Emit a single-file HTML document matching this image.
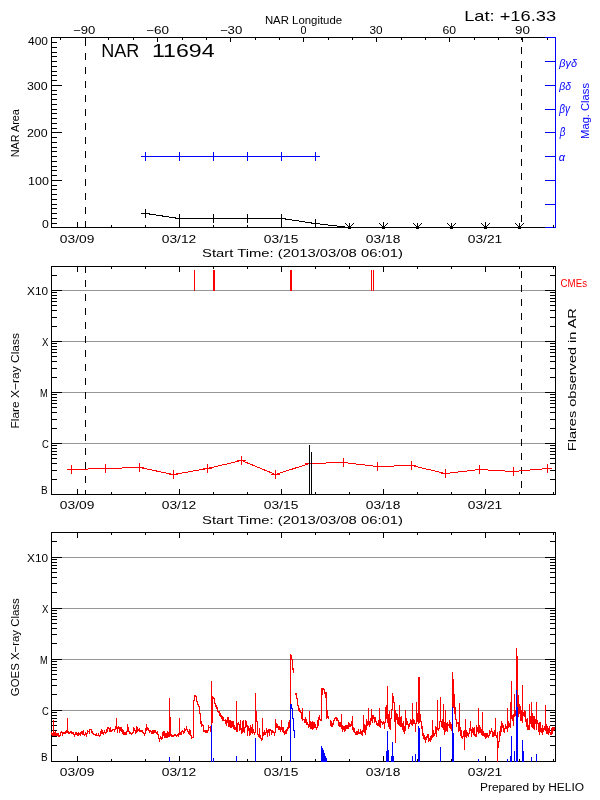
<!DOCTYPE html>
<html><head><meta charset="utf-8"><style>
html,body{margin:0;padding:0;background:#fff;}
svg{display:block;}
text{font-family:"Liberation Sans",sans-serif;}
svg{will-change:transform;}
</style></head><body>
<svg width="600" height="800" viewBox="0 0 600 800" shape-rendering="crispEdges">
<rect x="0" y="0" width="600" height="800" fill="#fff"/>
<rect x="85" y="39" width="1" height="7" fill="#000"/>
<rect x="85" y="53" width="1" height="7" fill="#000"/>
<rect x="85" y="67" width="1" height="7" fill="#000"/>
<rect x="85" y="81" width="1" height="7" fill="#000"/>
<rect x="85" y="95" width="1" height="7" fill="#000"/>
<rect x="85" y="109" width="1" height="7" fill="#000"/>
<rect x="85" y="123" width="1" height="7" fill="#000"/>
<rect x="85" y="137" width="1" height="7" fill="#000"/>
<rect x="85" y="151" width="1" height="7" fill="#000"/>
<rect x="85" y="165" width="1" height="7" fill="#000"/>
<rect x="85" y="179" width="1" height="7" fill="#000"/>
<rect x="85" y="193" width="1" height="7" fill="#000"/>
<rect x="85" y="207" width="1" height="7" fill="#000"/>
<rect x="85" y="221" width="1" height="7" fill="#000"/>
<rect x="521" y="37" width="1" height="3" fill="#000"/>
<rect x="521" y="47" width="1" height="7" fill="#000"/>
<rect x="521" y="61" width="1" height="7" fill="#000"/>
<rect x="521" y="75" width="1" height="7" fill="#000"/>
<rect x="521" y="89" width="1" height="7" fill="#000"/>
<rect x="521" y="103" width="1" height="7" fill="#000"/>
<rect x="521" y="117" width="1" height="7" fill="#000"/>
<rect x="521" y="131" width="1" height="7" fill="#000"/>
<rect x="521" y="145" width="1" height="7" fill="#000"/>
<rect x="521" y="159" width="1" height="7" fill="#000"/>
<rect x="521" y="173" width="1" height="7" fill="#000"/>
<rect x="521" y="187" width="1" height="7" fill="#000"/>
<rect x="521" y="201" width="1" height="7" fill="#000"/>
<rect x="521" y="215" width="1" height="7" fill="#000"/>
<rect x="51" y="37" width="505" height="1" fill="#000"/>
<rect x="51" y="227" width="505" height="1" fill="#000"/>
<rect x="51" y="37" width="1" height="191" fill="#000"/>
<rect x="555" y="37" width="1" height="191" fill="#0000ff"/>
<rect x="60" y="37" width="1" height="3" fill="#000"/>
<rect x="85" y="37" width="1" height="5" fill="#000"/>
<rect x="108" y="37" width="1" height="3" fill="#000"/>
<rect x="133" y="37" width="1" height="3" fill="#000"/>
<rect x="157" y="37" width="1" height="5" fill="#000"/>
<rect x="182" y="37" width="1" height="3" fill="#000"/>
<rect x="206" y="37" width="1" height="3" fill="#000"/>
<rect x="230" y="37" width="1" height="5" fill="#000"/>
<rect x="255" y="37" width="1" height="3" fill="#000"/>
<rect x="279" y="37" width="1" height="3" fill="#000"/>
<rect x="303" y="37" width="1" height="5" fill="#000"/>
<rect x="328" y="37" width="1" height="3" fill="#000"/>
<rect x="352" y="37" width="1" height="3" fill="#000"/>
<rect x="376" y="37" width="1" height="5" fill="#000"/>
<rect x="401" y="37" width="1" height="3" fill="#000"/>
<rect x="425" y="37" width="1" height="3" fill="#000"/>
<rect x="449" y="37" width="1" height="5" fill="#000"/>
<rect x="474" y="37" width="1" height="3" fill="#000"/>
<rect x="498" y="37" width="1" height="3" fill="#000"/>
<rect x="522" y="37" width="1" height="5" fill="#000"/>
<rect x="547" y="37" width="1" height="3" fill="#000"/>
<rect x="51" y="227" width="11" height="1" fill="#000"/>
<rect x="51" y="223" width="6" height="1" fill="#000"/>
<rect x="51" y="218" width="6" height="1" fill="#000"/>
<rect x="51" y="213" width="6" height="1" fill="#000"/>
<rect x="51" y="208" width="6" height="1" fill="#000"/>
<rect x="51" y="204" width="6" height="1" fill="#000"/>
<rect x="51" y="199" width="6" height="1" fill="#000"/>
<rect x="51" y="194" width="6" height="1" fill="#000"/>
<rect x="51" y="189" width="6" height="1" fill="#000"/>
<rect x="51" y="185" width="6" height="1" fill="#000"/>
<rect x="51" y="180" width="11" height="1" fill="#000"/>
<rect x="51" y="175" width="6" height="1" fill="#000"/>
<rect x="51" y="170" width="6" height="1" fill="#000"/>
<rect x="51" y="166" width="6" height="1" fill="#000"/>
<rect x="51" y="161" width="6" height="1" fill="#000"/>
<rect x="51" y="156" width="6" height="1" fill="#000"/>
<rect x="51" y="151" width="6" height="1" fill="#000"/>
<rect x="51" y="147" width="6" height="1" fill="#000"/>
<rect x="51" y="142" width="6" height="1" fill="#000"/>
<rect x="51" y="137" width="6" height="1" fill="#000"/>
<rect x="51" y="132" width="11" height="1" fill="#000"/>
<rect x="51" y="128" width="6" height="1" fill="#000"/>
<rect x="51" y="123" width="6" height="1" fill="#000"/>
<rect x="51" y="118" width="6" height="1" fill="#000"/>
<rect x="51" y="113" width="6" height="1" fill="#000"/>
<rect x="51" y="109" width="6" height="1" fill="#000"/>
<rect x="51" y="104" width="6" height="1" fill="#000"/>
<rect x="51" y="99" width="6" height="1" fill="#000"/>
<rect x="51" y="94" width="6" height="1" fill="#000"/>
<rect x="51" y="90" width="6" height="1" fill="#000"/>
<rect x="51" y="85" width="11" height="1" fill="#000"/>
<rect x="51" y="80" width="6" height="1" fill="#000"/>
<rect x="51" y="75" width="6" height="1" fill="#000"/>
<rect x="51" y="71" width="6" height="1" fill="#000"/>
<rect x="51" y="66" width="6" height="1" fill="#000"/>
<rect x="51" y="61" width="6" height="1" fill="#000"/>
<rect x="51" y="56" width="6" height="1" fill="#000"/>
<rect x="51" y="52" width="6" height="1" fill="#000"/>
<rect x="51" y="47" width="6" height="1" fill="#000"/>
<rect x="51" y="42" width="6" height="1" fill="#000"/>
<rect x="51" y="37" width="11" height="1" fill="#000"/>
<rect x="545" y="37" width="11" height="1" fill="#0000ff"/>
<rect x="545" y="61" width="11" height="1" fill="#0000ff"/>
<rect x="545" y="85" width="11" height="1" fill="#0000ff"/>
<rect x="545" y="109" width="11" height="1" fill="#0000ff"/>
<rect x="545" y="132" width="11" height="1" fill="#0000ff"/>
<rect x="545" y="156" width="11" height="1" fill="#0000ff"/>
<rect x="545" y="180" width="11" height="1" fill="#0000ff"/>
<rect x="545" y="204" width="11" height="1" fill="#0000ff"/>
<rect x="545" y="227" width="11" height="1" fill="#0000ff"/>
<rect x="77" y="222" width="1" height="6" fill="#000"/>
<rect x="111" y="225" width="1" height="3" fill="#000"/>
<rect x="145" y="225" width="1" height="3" fill="#000"/>
<rect x="179" y="222" width="1" height="6" fill="#000"/>
<rect x="213" y="225" width="1" height="3" fill="#000"/>
<rect x="247" y="225" width="1" height="3" fill="#000"/>
<rect x="281" y="222" width="1" height="6" fill="#000"/>
<rect x="315" y="225" width="1" height="3" fill="#000"/>
<rect x="349" y="225" width="1" height="3" fill="#000"/>
<rect x="383" y="222" width="1" height="6" fill="#000"/>
<rect x="417" y="225" width="1" height="3" fill="#000"/>
<rect x="451" y="225" width="1" height="3" fill="#000"/>
<rect x="485" y="222" width="1" height="6" fill="#000"/>
<rect x="519" y="225" width="1" height="3" fill="#000"/>
<rect x="553" y="225" width="1" height="3" fill="#000"/>
<rect x="141" y="156" width="179" height="1" fill="#0000ff"/>
<rect x="145" y="152" width="1" height="9" fill="#0000ff"/>
<rect x="179" y="152" width="1" height="9" fill="#0000ff"/>
<rect x="213" y="152" width="1" height="9" fill="#0000ff"/>
<rect x="247" y="152" width="1" height="9" fill="#0000ff"/>
<rect x="281" y="152" width="1" height="9" fill="#0000ff"/>
<rect x="315" y="152" width="1" height="9" fill="#0000ff"/>
<path d="M145.5,213.5 L179.5,218.5 L213.5,218.5 L247.5,218.5 L281.5,218.5 L315.5,223.5 L349.5,227.5" fill="none" stroke="#000" stroke-width="1" />
<rect x="141" y="213" width="9" height="1" fill="#000"/>
<rect x="145" y="209" width="1" height="9" fill="#000"/>
<rect x="175" y="218" width="9" height="1" fill="#000"/>
<rect x="179" y="214" width="1" height="9" fill="#000"/>
<rect x="209" y="218" width="9" height="1" fill="#000"/>
<rect x="213" y="214" width="1" height="9" fill="#000"/>
<rect x="243" y="218" width="9" height="1" fill="#000"/>
<rect x="247" y="214" width="1" height="9" fill="#000"/>
<rect x="277" y="218" width="9" height="1" fill="#000"/>
<rect x="281" y="214" width="1" height="9" fill="#000"/>
<rect x="311" y="223" width="9" height="1" fill="#000"/>
<rect x="315" y="219" width="1" height="9" fill="#000"/>
<rect x="349" y="223" width="1" height="5" fill="#000"/>
<rect x="345" y="223" width="1" height="1" fill="#000"/>
<rect x="353" y="223" width="1" height="1" fill="#000"/>
<rect x="346" y="224" width="1" height="1" fill="#000"/>
<rect x="352" y="224" width="1" height="1" fill="#000"/>
<rect x="347" y="225" width="1" height="1" fill="#000"/>
<rect x="351" y="225" width="1" height="1" fill="#000"/>
<rect x="348" y="226" width="1" height="1" fill="#000"/>
<rect x="350" y="226" width="1" height="1" fill="#000"/>
<rect x="348" y="226" width="3" height="3" fill="#000"/>
<rect x="383" y="223" width="1" height="5" fill="#000"/>
<rect x="379" y="223" width="1" height="1" fill="#000"/>
<rect x="387" y="223" width="1" height="1" fill="#000"/>
<rect x="380" y="224" width="1" height="1" fill="#000"/>
<rect x="386" y="224" width="1" height="1" fill="#000"/>
<rect x="381" y="225" width="1" height="1" fill="#000"/>
<rect x="385" y="225" width="1" height="1" fill="#000"/>
<rect x="382" y="226" width="1" height="1" fill="#000"/>
<rect x="384" y="226" width="1" height="1" fill="#000"/>
<rect x="382" y="226" width="3" height="3" fill="#000"/>
<rect x="417" y="223" width="1" height="5" fill="#000"/>
<rect x="413" y="223" width="1" height="1" fill="#000"/>
<rect x="421" y="223" width="1" height="1" fill="#000"/>
<rect x="414" y="224" width="1" height="1" fill="#000"/>
<rect x="420" y="224" width="1" height="1" fill="#000"/>
<rect x="415" y="225" width="1" height="1" fill="#000"/>
<rect x="419" y="225" width="1" height="1" fill="#000"/>
<rect x="416" y="226" width="1" height="1" fill="#000"/>
<rect x="418" y="226" width="1" height="1" fill="#000"/>
<rect x="416" y="226" width="3" height="3" fill="#000"/>
<rect x="451" y="223" width="1" height="5" fill="#000"/>
<rect x="447" y="223" width="1" height="1" fill="#000"/>
<rect x="455" y="223" width="1" height="1" fill="#000"/>
<rect x="448" y="224" width="1" height="1" fill="#000"/>
<rect x="454" y="224" width="1" height="1" fill="#000"/>
<rect x="449" y="225" width="1" height="1" fill="#000"/>
<rect x="453" y="225" width="1" height="1" fill="#000"/>
<rect x="450" y="226" width="1" height="1" fill="#000"/>
<rect x="452" y="226" width="1" height="1" fill="#000"/>
<rect x="450" y="226" width="3" height="3" fill="#000"/>
<rect x="485" y="223" width="1" height="5" fill="#000"/>
<rect x="481" y="223" width="1" height="1" fill="#000"/>
<rect x="489" y="223" width="1" height="1" fill="#000"/>
<rect x="482" y="224" width="1" height="1" fill="#000"/>
<rect x="488" y="224" width="1" height="1" fill="#000"/>
<rect x="483" y="225" width="1" height="1" fill="#000"/>
<rect x="487" y="225" width="1" height="1" fill="#000"/>
<rect x="484" y="226" width="1" height="1" fill="#000"/>
<rect x="486" y="226" width="1" height="1" fill="#000"/>
<rect x="484" y="226" width="3" height="3" fill="#000"/>
<rect x="519" y="223" width="1" height="5" fill="#000"/>
<rect x="515" y="223" width="1" height="1" fill="#000"/>
<rect x="523" y="223" width="1" height="1" fill="#000"/>
<rect x="516" y="224" width="1" height="1" fill="#000"/>
<rect x="522" y="224" width="1" height="1" fill="#000"/>
<rect x="517" y="225" width="1" height="1" fill="#000"/>
<rect x="521" y="225" width="1" height="1" fill="#000"/>
<rect x="518" y="226" width="1" height="1" fill="#000"/>
<rect x="520" y="226" width="1" height="1" fill="#000"/>
<rect x="518" y="226" width="3" height="3" fill="#000"/>
<rect x="51" y="290" width="505" height="1" fill="#969696"/>
<rect x="51" y="341" width="505" height="1" fill="#969696"/>
<rect x="51" y="392" width="505" height="1" fill="#969696"/>
<rect x="51" y="443" width="505" height="1" fill="#969696"/>
<rect x="85" y="266" width="1" height="7" fill="#000"/>
<rect x="85" y="280" width="1" height="7" fill="#000"/>
<rect x="85" y="294" width="1" height="7" fill="#000"/>
<rect x="85" y="308" width="1" height="7" fill="#000"/>
<rect x="85" y="322" width="1" height="7" fill="#000"/>
<rect x="85" y="336" width="1" height="7" fill="#000"/>
<rect x="85" y="350" width="1" height="7" fill="#000"/>
<rect x="85" y="364" width="1" height="7" fill="#000"/>
<rect x="85" y="378" width="1" height="7" fill="#000"/>
<rect x="85" y="392" width="1" height="7" fill="#000"/>
<rect x="85" y="406" width="1" height="7" fill="#000"/>
<rect x="85" y="420" width="1" height="7" fill="#000"/>
<rect x="85" y="434" width="1" height="7" fill="#000"/>
<rect x="85" y="448" width="1" height="7" fill="#000"/>
<rect x="85" y="462" width="1" height="7" fill="#000"/>
<rect x="85" y="476" width="1" height="7" fill="#000"/>
<rect x="85" y="490" width="1" height="5" fill="#000"/>
<rect x="521" y="271" width="1" height="7" fill="#000"/>
<rect x="521" y="285" width="1" height="7" fill="#000"/>
<rect x="521" y="299" width="1" height="7" fill="#000"/>
<rect x="521" y="313" width="1" height="7" fill="#000"/>
<rect x="521" y="327" width="1" height="7" fill="#000"/>
<rect x="521" y="341" width="1" height="7" fill="#000"/>
<rect x="521" y="355" width="1" height="7" fill="#000"/>
<rect x="521" y="369" width="1" height="7" fill="#000"/>
<rect x="521" y="383" width="1" height="7" fill="#000"/>
<rect x="521" y="397" width="1" height="7" fill="#000"/>
<rect x="521" y="411" width="1" height="7" fill="#000"/>
<rect x="521" y="425" width="1" height="7" fill="#000"/>
<rect x="521" y="439" width="1" height="7" fill="#000"/>
<rect x="521" y="453" width="1" height="7" fill="#000"/>
<rect x="521" y="467" width="1" height="7" fill="#000"/>
<rect x="521" y="481" width="1" height="7" fill="#000"/>
<rect x="51" y="266" width="505" height="1" fill="#000"/>
<rect x="51" y="494" width="505" height="1" fill="#000"/>
<rect x="51" y="266" width="1" height="229" fill="#000"/>
<rect x="555" y="266" width="1" height="229" fill="#000"/>
<rect x="51" y="494" width="11" height="1" fill="#000"/>
<rect x="545" y="494" width="11" height="1" fill="#000"/>
<rect x="51" y="479" width="6" height="1" fill="#000"/>
<rect x="550" y="479" width="6" height="1" fill="#000"/>
<rect x="51" y="470" width="6" height="1" fill="#000"/>
<rect x="550" y="470" width="6" height="1" fill="#000"/>
<rect x="51" y="463" width="6" height="1" fill="#000"/>
<rect x="550" y="463" width="6" height="1" fill="#000"/>
<rect x="51" y="458" width="6" height="1" fill="#000"/>
<rect x="550" y="458" width="6" height="1" fill="#000"/>
<rect x="51" y="454" width="6" height="1" fill="#000"/>
<rect x="550" y="454" width="6" height="1" fill="#000"/>
<rect x="51" y="451" width="6" height="1" fill="#000"/>
<rect x="550" y="451" width="6" height="1" fill="#000"/>
<rect x="51" y="448" width="6" height="1" fill="#000"/>
<rect x="550" y="448" width="6" height="1" fill="#000"/>
<rect x="51" y="445" width="6" height="1" fill="#000"/>
<rect x="550" y="445" width="6" height="1" fill="#000"/>
<rect x="51" y="443" width="11" height="1" fill="#000"/>
<rect x="545" y="443" width="11" height="1" fill="#000"/>
<rect x="51" y="428" width="6" height="1" fill="#000"/>
<rect x="550" y="428" width="6" height="1" fill="#000"/>
<rect x="51" y="419" width="6" height="1" fill="#000"/>
<rect x="550" y="419" width="6" height="1" fill="#000"/>
<rect x="51" y="412" width="6" height="1" fill="#000"/>
<rect x="550" y="412" width="6" height="1" fill="#000"/>
<rect x="51" y="407" width="6" height="1" fill="#000"/>
<rect x="550" y="407" width="6" height="1" fill="#000"/>
<rect x="51" y="403" width="6" height="1" fill="#000"/>
<rect x="550" y="403" width="6" height="1" fill="#000"/>
<rect x="51" y="400" width="6" height="1" fill="#000"/>
<rect x="550" y="400" width="6" height="1" fill="#000"/>
<rect x="51" y="397" width="6" height="1" fill="#000"/>
<rect x="550" y="397" width="6" height="1" fill="#000"/>
<rect x="51" y="394" width="6" height="1" fill="#000"/>
<rect x="550" y="394" width="6" height="1" fill="#000"/>
<rect x="51" y="392" width="11" height="1" fill="#000"/>
<rect x="545" y="392" width="11" height="1" fill="#000"/>
<rect x="51" y="377" width="6" height="1" fill="#000"/>
<rect x="550" y="377" width="6" height="1" fill="#000"/>
<rect x="51" y="368" width="6" height="1" fill="#000"/>
<rect x="550" y="368" width="6" height="1" fill="#000"/>
<rect x="51" y="361" width="6" height="1" fill="#000"/>
<rect x="550" y="361" width="6" height="1" fill="#000"/>
<rect x="51" y="356" width="6" height="1" fill="#000"/>
<rect x="550" y="356" width="6" height="1" fill="#000"/>
<rect x="51" y="352" width="6" height="1" fill="#000"/>
<rect x="550" y="352" width="6" height="1" fill="#000"/>
<rect x="51" y="349" width="6" height="1" fill="#000"/>
<rect x="550" y="349" width="6" height="1" fill="#000"/>
<rect x="51" y="346" width="6" height="1" fill="#000"/>
<rect x="550" y="346" width="6" height="1" fill="#000"/>
<rect x="51" y="343" width="6" height="1" fill="#000"/>
<rect x="550" y="343" width="6" height="1" fill="#000"/>
<rect x="51" y="341" width="11" height="1" fill="#000"/>
<rect x="545" y="341" width="11" height="1" fill="#000"/>
<rect x="51" y="326" width="6" height="1" fill="#000"/>
<rect x="550" y="326" width="6" height="1" fill="#000"/>
<rect x="51" y="317" width="6" height="1" fill="#000"/>
<rect x="550" y="317" width="6" height="1" fill="#000"/>
<rect x="51" y="310" width="6" height="1" fill="#000"/>
<rect x="550" y="310" width="6" height="1" fill="#000"/>
<rect x="51" y="305" width="6" height="1" fill="#000"/>
<rect x="550" y="305" width="6" height="1" fill="#000"/>
<rect x="51" y="301" width="6" height="1" fill="#000"/>
<rect x="550" y="301" width="6" height="1" fill="#000"/>
<rect x="51" y="298" width="6" height="1" fill="#000"/>
<rect x="550" y="298" width="6" height="1" fill="#000"/>
<rect x="51" y="295" width="6" height="1" fill="#000"/>
<rect x="550" y="295" width="6" height="1" fill="#000"/>
<rect x="51" y="292" width="6" height="1" fill="#000"/>
<rect x="550" y="292" width="6" height="1" fill="#000"/>
<rect x="51" y="290" width="11" height="1" fill="#000"/>
<rect x="545" y="290" width="11" height="1" fill="#000"/>
<rect x="51" y="275" width="6" height="1" fill="#000"/>
<rect x="550" y="275" width="6" height="1" fill="#000"/>
<rect x="51" y="266" width="6" height="1" fill="#000"/>
<rect x="550" y="266" width="6" height="1" fill="#000"/>
<rect x="77" y="489" width="1" height="6" fill="#000"/>
<rect x="77" y="266" width="1" height="6" fill="#000"/>
<rect x="111" y="492" width="1" height="3" fill="#000"/>
<rect x="111" y="266" width="1" height="3" fill="#000"/>
<rect x="145" y="492" width="1" height="3" fill="#000"/>
<rect x="145" y="266" width="1" height="3" fill="#000"/>
<rect x="179" y="489" width="1" height="6" fill="#000"/>
<rect x="179" y="266" width="1" height="6" fill="#000"/>
<rect x="213" y="492" width="1" height="3" fill="#000"/>
<rect x="213" y="266" width="1" height="3" fill="#000"/>
<rect x="247" y="492" width="1" height="3" fill="#000"/>
<rect x="247" y="266" width="1" height="3" fill="#000"/>
<rect x="281" y="489" width="1" height="6" fill="#000"/>
<rect x="281" y="266" width="1" height="6" fill="#000"/>
<rect x="315" y="492" width="1" height="3" fill="#000"/>
<rect x="315" y="266" width="1" height="3" fill="#000"/>
<rect x="349" y="492" width="1" height="3" fill="#000"/>
<rect x="349" y="266" width="1" height="3" fill="#000"/>
<rect x="383" y="489" width="1" height="6" fill="#000"/>
<rect x="383" y="266" width="1" height="6" fill="#000"/>
<rect x="417" y="492" width="1" height="3" fill="#000"/>
<rect x="417" y="266" width="1" height="3" fill="#000"/>
<rect x="451" y="492" width="1" height="3" fill="#000"/>
<rect x="451" y="266" width="1" height="3" fill="#000"/>
<rect x="485" y="489" width="1" height="6" fill="#000"/>
<rect x="485" y="266" width="1" height="6" fill="#000"/>
<rect x="519" y="492" width="1" height="3" fill="#000"/>
<rect x="519" y="266" width="1" height="3" fill="#000"/>
<rect x="553" y="492" width="1" height="3" fill="#000"/>
<rect x="553" y="266" width="1" height="3" fill="#000"/>
<rect x="194" y="270" width="1" height="21" fill="#ff0000"/>
<rect x="213" y="270" width="2" height="21" fill="#ff0000"/>
<rect x="290" y="270" width="2" height="21" fill="#ff0000"/>
<rect x="371" y="270" width="1" height="21" fill="#ff0000"/>
<rect x="373" y="270" width="1" height="21" fill="#ff0000"/>
<path d="M71.5,469.5 L105.5,468.5 L139.5,467.5 L173.5,474.5 L207.5,468.5 L241.5,460.5 L275.5,474.5 L309.5,463.5 L343.5,462.5 L377.5,466.5 L411.5,465.5 L445.5,473.5 L479.5,469.5 L513.5,471.5 L547.5,468.5" fill="none" stroke="#ff0000" stroke-width="1" />
<rect x="67" y="469" width="9" height="1" fill="#ff0000"/>
<rect x="71" y="465" width="1" height="9" fill="#ff0000"/>
<rect x="101" y="468" width="9" height="1" fill="#ff0000"/>
<rect x="105" y="464" width="1" height="9" fill="#ff0000"/>
<rect x="135" y="467" width="9" height="1" fill="#ff0000"/>
<rect x="139" y="463" width="1" height="9" fill="#ff0000"/>
<rect x="169" y="474" width="9" height="1" fill="#ff0000"/>
<rect x="173" y="470" width="1" height="9" fill="#ff0000"/>
<rect x="203" y="468" width="9" height="1" fill="#ff0000"/>
<rect x="207" y="464" width="1" height="9" fill="#ff0000"/>
<rect x="237" y="460" width="9" height="1" fill="#ff0000"/>
<rect x="241" y="456" width="1" height="9" fill="#ff0000"/>
<rect x="271" y="474" width="9" height="1" fill="#ff0000"/>
<rect x="275" y="470" width="1" height="9" fill="#ff0000"/>
<rect x="305" y="463" width="9" height="1" fill="#ff0000"/>
<rect x="309" y="459" width="1" height="9" fill="#ff0000"/>
<rect x="339" y="462" width="9" height="1" fill="#ff0000"/>
<rect x="343" y="458" width="1" height="9" fill="#ff0000"/>
<rect x="373" y="466" width="9" height="1" fill="#ff0000"/>
<rect x="377" y="462" width="1" height="9" fill="#ff0000"/>
<rect x="407" y="465" width="9" height="1" fill="#ff0000"/>
<rect x="411" y="461" width="1" height="9" fill="#ff0000"/>
<rect x="441" y="473" width="9" height="1" fill="#ff0000"/>
<rect x="445" y="469" width="1" height="9" fill="#ff0000"/>
<rect x="475" y="469" width="9" height="1" fill="#ff0000"/>
<rect x="479" y="465" width="1" height="9" fill="#ff0000"/>
<rect x="509" y="471" width="9" height="1" fill="#ff0000"/>
<rect x="513" y="467" width="1" height="9" fill="#ff0000"/>
<rect x="543" y="468" width="9" height="1" fill="#ff0000"/>
<rect x="547" y="464" width="1" height="9" fill="#ff0000"/>
<rect x="309" y="445" width="1" height="50" fill="#000"/>
<rect x="311" y="452" width="1" height="43" fill="#000"/>
<rect x="51" y="557" width="505" height="1" fill="#969696"/>
<rect x="51" y="608" width="505" height="1" fill="#969696"/>
<rect x="51" y="659" width="505" height="1" fill="#969696"/>
<rect x="51" y="710" width="505" height="1" fill="#969696"/>
<rect x="51" y="532" width="505" height="1" fill="#000"/>
<rect x="51" y="761" width="505" height="1" fill="#000"/>
<rect x="51" y="532" width="1" height="230" fill="#000"/>
<rect x="555" y="532" width="1" height="230" fill="#000"/>
<rect x="51" y="761" width="11" height="1" fill="#000"/>
<rect x="545" y="761" width="11" height="1" fill="#000"/>
<rect x="51" y="745" width="6" height="1" fill="#000"/>
<rect x="550" y="745" width="6" height="1" fill="#000"/>
<rect x="51" y="736" width="6" height="1" fill="#000"/>
<rect x="550" y="736" width="6" height="1" fill="#000"/>
<rect x="51" y="730" width="6" height="1" fill="#000"/>
<rect x="550" y="730" width="6" height="1" fill="#000"/>
<rect x="51" y="725" width="6" height="1" fill="#000"/>
<rect x="550" y="725" width="6" height="1" fill="#000"/>
<rect x="51" y="721" width="6" height="1" fill="#000"/>
<rect x="550" y="721" width="6" height="1" fill="#000"/>
<rect x="51" y="718" width="6" height="1" fill="#000"/>
<rect x="550" y="718" width="6" height="1" fill="#000"/>
<rect x="51" y="715" width="6" height="1" fill="#000"/>
<rect x="550" y="715" width="6" height="1" fill="#000"/>
<rect x="51" y="712" width="6" height="1" fill="#000"/>
<rect x="550" y="712" width="6" height="1" fill="#000"/>
<rect x="51" y="710" width="11" height="1" fill="#000"/>
<rect x="545" y="710" width="11" height="1" fill="#000"/>
<rect x="51" y="694" width="6" height="1" fill="#000"/>
<rect x="550" y="694" width="6" height="1" fill="#000"/>
<rect x="51" y="685" width="6" height="1" fill="#000"/>
<rect x="550" y="685" width="6" height="1" fill="#000"/>
<rect x="51" y="679" width="6" height="1" fill="#000"/>
<rect x="550" y="679" width="6" height="1" fill="#000"/>
<rect x="51" y="674" width="6" height="1" fill="#000"/>
<rect x="550" y="674" width="6" height="1" fill="#000"/>
<rect x="51" y="670" width="6" height="1" fill="#000"/>
<rect x="550" y="670" width="6" height="1" fill="#000"/>
<rect x="51" y="667" width="6" height="1" fill="#000"/>
<rect x="550" y="667" width="6" height="1" fill="#000"/>
<rect x="51" y="664" width="6" height="1" fill="#000"/>
<rect x="550" y="664" width="6" height="1" fill="#000"/>
<rect x="51" y="661" width="6" height="1" fill="#000"/>
<rect x="550" y="661" width="6" height="1" fill="#000"/>
<rect x="51" y="659" width="11" height="1" fill="#000"/>
<rect x="545" y="659" width="11" height="1" fill="#000"/>
<rect x="51" y="643" width="6" height="1" fill="#000"/>
<rect x="550" y="643" width="6" height="1" fill="#000"/>
<rect x="51" y="634" width="6" height="1" fill="#000"/>
<rect x="550" y="634" width="6" height="1" fill="#000"/>
<rect x="51" y="628" width="6" height="1" fill="#000"/>
<rect x="550" y="628" width="6" height="1" fill="#000"/>
<rect x="51" y="623" width="6" height="1" fill="#000"/>
<rect x="550" y="623" width="6" height="1" fill="#000"/>
<rect x="51" y="619" width="6" height="1" fill="#000"/>
<rect x="550" y="619" width="6" height="1" fill="#000"/>
<rect x="51" y="616" width="6" height="1" fill="#000"/>
<rect x="550" y="616" width="6" height="1" fill="#000"/>
<rect x="51" y="613" width="6" height="1" fill="#000"/>
<rect x="550" y="613" width="6" height="1" fill="#000"/>
<rect x="51" y="610" width="6" height="1" fill="#000"/>
<rect x="550" y="610" width="6" height="1" fill="#000"/>
<rect x="51" y="608" width="11" height="1" fill="#000"/>
<rect x="545" y="608" width="11" height="1" fill="#000"/>
<rect x="51" y="592" width="6" height="1" fill="#000"/>
<rect x="550" y="592" width="6" height="1" fill="#000"/>
<rect x="51" y="583" width="6" height="1" fill="#000"/>
<rect x="550" y="583" width="6" height="1" fill="#000"/>
<rect x="51" y="577" width="6" height="1" fill="#000"/>
<rect x="550" y="577" width="6" height="1" fill="#000"/>
<rect x="51" y="572" width="6" height="1" fill="#000"/>
<rect x="550" y="572" width="6" height="1" fill="#000"/>
<rect x="51" y="568" width="6" height="1" fill="#000"/>
<rect x="550" y="568" width="6" height="1" fill="#000"/>
<rect x="51" y="565" width="6" height="1" fill="#000"/>
<rect x="550" y="565" width="6" height="1" fill="#000"/>
<rect x="51" y="562" width="6" height="1" fill="#000"/>
<rect x="550" y="562" width="6" height="1" fill="#000"/>
<rect x="51" y="559" width="6" height="1" fill="#000"/>
<rect x="550" y="559" width="6" height="1" fill="#000"/>
<rect x="51" y="557" width="11" height="1" fill="#000"/>
<rect x="545" y="557" width="11" height="1" fill="#000"/>
<rect x="51" y="541" width="6" height="1" fill="#000"/>
<rect x="550" y="541" width="6" height="1" fill="#000"/>
<rect x="51" y="532" width="6" height="1" fill="#000"/>
<rect x="550" y="532" width="6" height="1" fill="#000"/>
<rect x="77" y="756" width="1" height="6" fill="#000"/>
<rect x="77" y="532" width="1" height="6" fill="#000"/>
<rect x="111" y="759" width="1" height="3" fill="#000"/>
<rect x="111" y="532" width="1" height="3" fill="#000"/>
<rect x="145" y="759" width="1" height="3" fill="#000"/>
<rect x="145" y="532" width="1" height="3" fill="#000"/>
<rect x="179" y="756" width="1" height="6" fill="#000"/>
<rect x="179" y="532" width="1" height="6" fill="#000"/>
<rect x="213" y="759" width="1" height="3" fill="#000"/>
<rect x="213" y="532" width="1" height="3" fill="#000"/>
<rect x="247" y="759" width="1" height="3" fill="#000"/>
<rect x="247" y="532" width="1" height="3" fill="#000"/>
<rect x="281" y="756" width="1" height="6" fill="#000"/>
<rect x="281" y="532" width="1" height="6" fill="#000"/>
<rect x="315" y="759" width="1" height="3" fill="#000"/>
<rect x="315" y="532" width="1" height="3" fill="#000"/>
<rect x="349" y="759" width="1" height="3" fill="#000"/>
<rect x="349" y="532" width="1" height="3" fill="#000"/>
<rect x="383" y="756" width="1" height="6" fill="#000"/>
<rect x="383" y="532" width="1" height="6" fill="#000"/>
<rect x="417" y="759" width="1" height="3" fill="#000"/>
<rect x="417" y="532" width="1" height="3" fill="#000"/>
<rect x="451" y="759" width="1" height="3" fill="#000"/>
<rect x="451" y="532" width="1" height="3" fill="#000"/>
<rect x="485" y="756" width="1" height="6" fill="#000"/>
<rect x="485" y="532" width="1" height="6" fill="#000"/>
<rect x="519" y="759" width="1" height="3" fill="#000"/>
<rect x="519" y="532" width="1" height="3" fill="#000"/>
<rect x="553" y="759" width="1" height="3" fill="#000"/>
<rect x="553" y="532" width="1" height="3" fill="#000"/>
<rect x="51" y="732" width="1" height="3" fill="#ff0000"/>
<rect x="52" y="733" width="1" height="3" fill="#ff0000"/>
<rect x="53" y="720" width="1" height="16" fill="#ff0000"/>
<rect x="54" y="732" width="1" height="4" fill="#ff0000"/>
<rect x="55" y="731" width="1" height="5" fill="#ff0000"/>
<rect x="56" y="733" width="1" height="3" fill="#ff0000"/>
<rect x="57" y="733" width="1" height="3" fill="#ff0000"/>
<rect x="58" y="733" width="1" height="4" fill="#ff0000"/>
<rect x="59" y="735" width="1" height="2" fill="#ff0000"/>
<rect x="60" y="732" width="1" height="4" fill="#ff0000"/>
<rect x="61" y="731" width="1" height="2" fill="#ff0000"/>
<rect x="62" y="732" width="1" height="4" fill="#ff0000"/>
<rect x="63" y="732" width="1" height="2" fill="#ff0000"/>
<rect x="64" y="732" width="1" height="2" fill="#ff0000"/>
<rect x="65" y="731" width="1" height="3" fill="#ff0000"/>
<rect x="66" y="730" width="1" height="3" fill="#ff0000"/>
<rect x="67" y="718" width="1" height="15" fill="#ff0000"/>
<rect x="68" y="731" width="1" height="3" fill="#ff0000"/>
<rect x="69" y="732" width="1" height="2" fill="#ff0000"/>
<rect x="70" y="731" width="1" height="2" fill="#ff0000"/>
<rect x="71" y="731" width="1" height="3" fill="#ff0000"/>
<rect x="72" y="732" width="1" height="2" fill="#ff0000"/>
<rect x="73" y="732" width="1" height="3" fill="#ff0000"/>
<rect x="74" y="734" width="1" height="3" fill="#ff0000"/>
<rect x="75" y="732" width="1" height="3" fill="#ff0000"/>
<rect x="76" y="732" width="1" height="3" fill="#ff0000"/>
<rect x="77" y="733" width="1" height="3" fill="#ff0000"/>
<rect x="78" y="732" width="1" height="4" fill="#ff0000"/>
<rect x="79" y="733" width="1" height="2" fill="#ff0000"/>
<rect x="80" y="732" width="1" height="4" fill="#ff0000"/>
<rect x="81" y="731" width="1" height="3" fill="#ff0000"/>
<rect x="82" y="731" width="1" height="4" fill="#ff0000"/>
<rect x="83" y="730" width="1" height="5" fill="#ff0000"/>
<rect x="84" y="734" width="1" height="2" fill="#ff0000"/>
<rect x="85" y="732" width="1" height="3" fill="#ff0000"/>
<rect x="86" y="733" width="1" height="4" fill="#ff0000"/>
<rect x="87" y="730" width="1" height="4" fill="#ff0000"/>
<rect x="88" y="731" width="1" height="1" fill="#ff0000"/>
<rect x="89" y="729" width="1" height="5" fill="#ff0000"/>
<rect x="90" y="729" width="1" height="1" fill="#ff0000"/>
<rect x="91" y="729" width="1" height="4" fill="#ff0000"/>
<rect x="92" y="731" width="1" height="3" fill="#ff0000"/>
<rect x="93" y="733" width="1" height="2" fill="#ff0000"/>
<rect x="94" y="734" width="1" height="1" fill="#ff0000"/>
<rect x="95" y="734" width="1" height="2" fill="#ff0000"/>
<rect x="96" y="733" width="1" height="3" fill="#ff0000"/>
<rect x="97" y="735" width="1" height="1" fill="#ff0000"/>
<rect x="98" y="733" width="1" height="3" fill="#ff0000"/>
<rect x="99" y="735" width="1" height="2" fill="#ff0000"/>
<rect x="100" y="731" width="1" height="5" fill="#ff0000"/>
<rect x="101" y="729" width="1" height="5" fill="#ff0000"/>
<rect x="102" y="730" width="1" height="4" fill="#ff0000"/>
<rect x="103" y="732" width="1" height="3" fill="#ff0000"/>
<rect x="104" y="730" width="1" height="3" fill="#ff0000"/>
<rect x="105" y="732" width="1" height="2" fill="#ff0000"/>
<rect x="106" y="729" width="1" height="4" fill="#ff0000"/>
<rect x="107" y="727" width="1" height="5" fill="#ff0000"/>
<rect x="108" y="727" width="1" height="2" fill="#ff0000"/>
<rect x="109" y="728" width="1" height="4" fill="#ff0000"/>
<rect x="110" y="727" width="1" height="5" fill="#ff0000"/>
<rect x="111" y="730" width="1" height="2" fill="#ff0000"/>
<rect x="112" y="729" width="1" height="2" fill="#ff0000"/>
<rect x="113" y="729" width="1" height="1" fill="#ff0000"/>
<rect x="114" y="729" width="1" height="3" fill="#ff0000"/>
<rect x="115" y="726" width="1" height="4" fill="#ff0000"/>
<rect x="116" y="718" width="1" height="11" fill="#ff0000"/>
<rect x="117" y="727" width="1" height="6" fill="#ff0000"/>
<rect x="118" y="726" width="1" height="3" fill="#ff0000"/>
<rect x="119" y="727" width="1" height="6" fill="#ff0000"/>
<rect x="120" y="727" width="1" height="4" fill="#ff0000"/>
<rect x="121" y="727" width="1" height="5" fill="#ff0000"/>
<rect x="122" y="729" width="1" height="5" fill="#ff0000"/>
<rect x="123" y="730" width="1" height="5" fill="#ff0000"/>
<rect x="124" y="732" width="1" height="3" fill="#ff0000"/>
<rect x="125" y="732" width="1" height="3" fill="#ff0000"/>
<rect x="126" y="731" width="1" height="4" fill="#ff0000"/>
<rect x="127" y="724" width="1" height="8" fill="#ff0000"/>
<rect x="128" y="727" width="1" height="5" fill="#ff0000"/>
<rect x="129" y="731" width="1" height="3" fill="#ff0000"/>
<rect x="130" y="732" width="1" height="2" fill="#ff0000"/>
<rect x="131" y="733" width="1" height="2" fill="#ff0000"/>
<rect x="132" y="732" width="1" height="2" fill="#ff0000"/>
<rect x="133" y="727" width="1" height="6" fill="#ff0000"/>
<rect x="134" y="728" width="1" height="3" fill="#ff0000"/>
<rect x="135" y="730" width="1" height="4" fill="#ff0000"/>
<rect x="136" y="726" width="1" height="7" fill="#ff0000"/>
<rect x="137" y="727" width="1" height="5" fill="#ff0000"/>
<rect x="138" y="729" width="1" height="2" fill="#ff0000"/>
<rect x="139" y="728" width="1" height="4" fill="#ff0000"/>
<rect x="140" y="730" width="1" height="2" fill="#ff0000"/>
<rect x="141" y="730" width="1" height="2" fill="#ff0000"/>
<rect x="142" y="730" width="1" height="3" fill="#ff0000"/>
<rect x="143" y="732" width="1" height="2" fill="#ff0000"/>
<rect x="144" y="733" width="1" height="3" fill="#ff0000"/>
<rect x="145" y="728" width="1" height="6" fill="#ff0000"/>
<rect x="146" y="724" width="1" height="7" fill="#ff0000"/>
<rect x="147" y="727" width="1" height="3" fill="#ff0000"/>
<rect x="148" y="728" width="1" height="3" fill="#ff0000"/>
<rect x="149" y="730" width="1" height="3" fill="#ff0000"/>
<rect x="150" y="730" width="1" height="2" fill="#ff0000"/>
<rect x="151" y="731" width="1" height="3" fill="#ff0000"/>
<rect x="152" y="730" width="1" height="4" fill="#ff0000"/>
<rect x="153" y="730" width="1" height="4" fill="#ff0000"/>
<rect x="154" y="730" width="1" height="3" fill="#ff0000"/>
<rect x="155" y="730" width="1" height="3" fill="#ff0000"/>
<rect x="156" y="732" width="1" height="2" fill="#ff0000"/>
<rect x="157" y="731" width="1" height="4" fill="#ff0000"/>
<rect x="158" y="734" width="1" height="5" fill="#ff0000"/>
<rect x="159" y="738" width="1" height="4" fill="#ff0000"/>
<rect x="160" y="736" width="1" height="3" fill="#ff0000"/>
<rect x="161" y="737" width="1" height="3" fill="#ff0000"/>
<rect x="162" y="732" width="1" height="7" fill="#ff0000"/>
<rect x="163" y="731" width="1" height="5" fill="#ff0000"/>
<rect x="164" y="731" width="1" height="7" fill="#ff0000"/>
<rect x="165" y="733" width="1" height="5" fill="#ff0000"/>
<rect x="166" y="733" width="1" height="5" fill="#ff0000"/>
<rect x="167" y="731" width="1" height="7" fill="#ff0000"/>
<rect x="168" y="732" width="1" height="5" fill="#ff0000"/>
<rect x="169" y="698" width="1" height="39" fill="#ff0000"/>
<rect x="170" y="717" width="1" height="19" fill="#ff0000"/>
<rect x="171" y="734" width="1" height="3" fill="#ff0000"/>
<rect x="172" y="735" width="1" height="2" fill="#ff0000"/>
<rect x="173" y="735" width="1" height="2" fill="#ff0000"/>
<rect x="174" y="734" width="1" height="2" fill="#ff0000"/>
<rect x="175" y="734" width="1" height="2" fill="#ff0000"/>
<rect x="176" y="735" width="1" height="2" fill="#ff0000"/>
<rect x="177" y="734" width="1" height="2" fill="#ff0000"/>
<rect x="178" y="733" width="1" height="4" fill="#ff0000"/>
<rect x="179" y="718" width="1" height="17" fill="#ff0000"/>
<rect x="180" y="732" width="1" height="3" fill="#ff0000"/>
<rect x="181" y="731" width="1" height="4" fill="#ff0000"/>
<rect x="182" y="730" width="1" height="2" fill="#ff0000"/>
<rect x="183" y="731" width="1" height="3" fill="#ff0000"/>
<rect x="184" y="728" width="1" height="5" fill="#ff0000"/>
<rect x="185" y="729" width="1" height="2" fill="#ff0000"/>
<rect x="186" y="726" width="1" height="4" fill="#ff0000"/>
<rect x="187" y="729" width="1" height="3" fill="#ff0000"/>
<rect x="188" y="731" width="1" height="3" fill="#ff0000"/>
<rect x="189" y="729" width="1" height="6" fill="#ff0000"/>
<rect x="190" y="730" width="1" height="6" fill="#ff0000"/>
<rect x="191" y="735" width="1" height="4" fill="#ff0000"/>
<rect x="192" y="737" width="1" height="1" fill="#ff0000"/>
<rect x="193" y="700" width="1" height="38" fill="#ff0000"/>
<rect x="194" y="695" width="1" height="6" fill="#ff0000"/>
<rect x="195" y="695" width="1" height="2" fill="#ff0000"/>
<rect x="196" y="696" width="1" height="6" fill="#ff0000"/>
<rect x="197" y="701" width="1" height="4" fill="#ff0000"/>
<rect x="198" y="704" width="1" height="3" fill="#ff0000"/>
<rect x="199" y="706" width="1" height="8" fill="#ff0000"/>
<rect x="200" y="713" width="1" height="11" fill="#ff0000"/>
<rect x="201" y="721" width="1" height="6" fill="#ff0000"/>
<rect x="202" y="724" width="1" height="2" fill="#ff0000"/>
<rect x="203" y="725" width="1" height="7" fill="#ff0000"/>
<rect x="204" y="730" width="1" height="2" fill="#ff0000"/>
<rect x="205" y="730" width="1" height="3" fill="#ff0000"/>
<rect x="206" y="730" width="1" height="3" fill="#ff0000"/>
<rect x="207" y="730" width="1" height="3" fill="#ff0000"/>
<rect x="208" y="725" width="1" height="6" fill="#ff0000"/>
<rect x="209" y="727" width="1" height="1" fill="#ff0000"/>
<rect x="210" y="726" width="1" height="6" fill="#ff0000"/>
<rect x="211" y="681" width="1" height="50" fill="#ff0000"/>
<rect x="212" y="696" width="1" height="27" fill="#ff0000"/>
<rect x="213" y="697" width="1" height="2" fill="#ff0000"/>
<rect x="214" y="698" width="1" height="6" fill="#ff0000"/>
<rect x="215" y="703" width="1" height="4" fill="#ff0000"/>
<rect x="216" y="705" width="1" height="4" fill="#ff0000"/>
<rect x="217" y="707" width="1" height="5" fill="#ff0000"/>
<rect x="218" y="711" width="1" height="2" fill="#ff0000"/>
<rect x="219" y="711" width="1" height="5" fill="#ff0000"/>
<rect x="220" y="713" width="1" height="4" fill="#ff0000"/>
<rect x="221" y="715" width="1" height="4" fill="#ff0000"/>
<rect x="222" y="716" width="1" height="5" fill="#ff0000"/>
<rect x="223" y="717" width="1" height="4" fill="#ff0000"/>
<rect x="224" y="720" width="1" height="1" fill="#ff0000"/>
<rect x="225" y="719" width="1" height="5" fill="#ff0000"/>
<rect x="226" y="720" width="1" height="6" fill="#ff0000"/>
<rect x="227" y="717" width="1" height="6" fill="#ff0000"/>
<rect x="228" y="717" width="1" height="10" fill="#ff0000"/>
<rect x="229" y="720" width="1" height="7" fill="#ff0000"/>
<rect x="230" y="720" width="1" height="8" fill="#ff0000"/>
<rect x="231" y="721" width="1" height="7" fill="#ff0000"/>
<rect x="232" y="721" width="1" height="6" fill="#ff0000"/>
<rect x="233" y="721" width="1" height="8" fill="#ff0000"/>
<rect x="234" y="725" width="1" height="5" fill="#ff0000"/>
<rect x="235" y="727" width="1" height="3" fill="#ff0000"/>
<rect x="236" y="701" width="1" height="31" fill="#ff0000"/>
<rect x="237" y="723" width="1" height="9" fill="#ff0000"/>
<rect x="238" y="722" width="1" height="3" fill="#ff0000"/>
<rect x="239" y="724" width="1" height="7" fill="#ff0000"/>
<rect x="240" y="720" width="1" height="10" fill="#ff0000"/>
<rect x="241" y="728" width="1" height="6" fill="#ff0000"/>
<rect x="242" y="721" width="1" height="12" fill="#ff0000"/>
<rect x="243" y="720" width="1" height="12" fill="#ff0000"/>
<rect x="244" y="727" width="1" height="6" fill="#ff0000"/>
<rect x="245" y="720" width="1" height="8" fill="#ff0000"/>
<rect x="246" y="721" width="1" height="6" fill="#ff0000"/>
<rect x="247" y="725" width="1" height="11" fill="#ff0000"/>
<rect x="248" y="726" width="1" height="5" fill="#ff0000"/>
<rect x="249" y="728" width="1" height="8" fill="#ff0000"/>
<rect x="250" y="725" width="1" height="10" fill="#ff0000"/>
<rect x="251" y="727" width="1" height="6" fill="#ff0000"/>
<rect x="252" y="724" width="1" height="10" fill="#ff0000"/>
<rect x="253" y="729" width="1" height="4" fill="#ff0000"/>
<rect x="254" y="732" width="1" height="3" fill="#ff0000"/>
<rect x="255" y="693" width="1" height="40" fill="#ff0000"/>
<rect x="256" y="711" width="1" height="11" fill="#ff0000"/>
<rect x="257" y="721" width="1" height="14" fill="#ff0000"/>
<rect x="258" y="734" width="1" height="3" fill="#ff0000"/>
<rect x="259" y="728" width="1" height="10" fill="#ff0000"/>
<rect x="260" y="735" width="1" height="4" fill="#ff0000"/>
<rect x="261" y="738" width="1" height="3" fill="#ff0000"/>
<rect x="262" y="718" width="1" height="22" fill="#ff0000"/>
<rect x="263" y="732" width="1" height="4" fill="#ff0000"/>
<rect x="264" y="730" width="1" height="5" fill="#ff0000"/>
<rect x="265" y="732" width="1" height="3" fill="#ff0000"/>
<rect x="266" y="728" width="1" height="5" fill="#ff0000"/>
<rect x="267" y="730" width="1" height="7" fill="#ff0000"/>
<rect x="268" y="729" width="1" height="4" fill="#ff0000"/>
<rect x="269" y="729" width="1" height="7" fill="#ff0000"/>
<rect x="270" y="729" width="1" height="2" fill="#ff0000"/>
<rect x="271" y="730" width="1" height="5" fill="#ff0000"/>
<rect x="272" y="730" width="1" height="3" fill="#ff0000"/>
<rect x="273" y="731" width="1" height="2" fill="#ff0000"/>
<rect x="274" y="732" width="1" height="4" fill="#ff0000"/>
<rect x="275" y="719" width="1" height="14" fill="#ff0000"/>
<rect x="276" y="723" width="1" height="5" fill="#ff0000"/>
<rect x="277" y="724" width="1" height="4" fill="#ff0000"/>
<rect x="278" y="726" width="1" height="4" fill="#ff0000"/>
<rect x="279" y="726" width="1" height="4" fill="#ff0000"/>
<rect x="280" y="727" width="1" height="5" fill="#ff0000"/>
<rect x="281" y="720" width="1" height="10" fill="#ff0000"/>
<rect x="282" y="727" width="1" height="5" fill="#ff0000"/>
<rect x="283" y="727" width="1" height="6" fill="#ff0000"/>
<rect x="284" y="731" width="1" height="4" fill="#ff0000"/>
<rect x="285" y="730" width="1" height="4" fill="#ff0000"/>
<rect x="286" y="729" width="1" height="5" fill="#ff0000"/>
<rect x="287" y="727" width="1" height="4" fill="#ff0000"/>
<rect x="288" y="722" width="1" height="7" fill="#ff0000"/>
<rect x="289" y="720" width="1" height="8" fill="#ff0000"/>
<rect x="290" y="654" width="1" height="76" fill="#ff0000"/>
<rect x="291" y="655" width="1" height="5" fill="#ff0000"/>
<rect x="292" y="659" width="1" height="11" fill="#ff0000"/>
<rect x="293" y="668" width="1" height="5" fill="#ff0000"/>
<rect x="295" y="693" width="1" height="2" fill="#ff0000"/>
<rect x="296" y="693" width="1" height="6" fill="#ff0000"/>
<rect x="297" y="698" width="1" height="8" fill="#ff0000"/>
<rect x="298" y="705" width="1" height="6" fill="#ff0000"/>
<rect x="299" y="708" width="1" height="4" fill="#ff0000"/>
<rect x="300" y="710" width="1" height="3" fill="#ff0000"/>
<rect x="301" y="712" width="1" height="7" fill="#ff0000"/>
<rect x="302" y="708" width="1" height="13" fill="#ff0000"/>
<rect x="303" y="719" width="1" height="1" fill="#ff0000"/>
<rect x="304" y="719" width="1" height="4" fill="#ff0000"/>
<rect x="305" y="717" width="1" height="6" fill="#ff0000"/>
<rect x="306" y="719" width="1" height="6" fill="#ff0000"/>
<rect x="307" y="722" width="1" height="3" fill="#ff0000"/>
<rect x="308" y="724" width="1" height="4" fill="#ff0000"/>
<rect x="309" y="711" width="1" height="16" fill="#ff0000"/>
<rect x="310" y="721" width="1" height="8" fill="#ff0000"/>
<rect x="311" y="722" width="1" height="7" fill="#ff0000"/>
<rect x="312" y="721" width="1" height="9" fill="#ff0000"/>
<rect x="313" y="722" width="1" height="7" fill="#ff0000"/>
<rect x="314" y="722" width="1" height="6" fill="#ff0000"/>
<rect x="315" y="724" width="1" height="4" fill="#ff0000"/>
<rect x="316" y="727" width="1" height="3" fill="#ff0000"/>
<rect x="317" y="720" width="1" height="8" fill="#ff0000"/>
<rect x="318" y="717" width="1" height="9" fill="#ff0000"/>
<rect x="319" y="715" width="1" height="5" fill="#ff0000"/>
<rect x="320" y="719" width="1" height="2" fill="#ff0000"/>
<rect x="321" y="688" width="1" height="33" fill="#ff0000"/>
<rect x="322" y="688" width="1" height="7" fill="#ff0000"/>
<rect x="323" y="688" width="1" height="2" fill="#ff0000"/>
<rect x="324" y="689" width="1" height="5" fill="#ff0000"/>
<rect x="325" y="692" width="1" height="6" fill="#ff0000"/>
<rect x="326" y="692" width="1" height="27" fill="#ff0000"/>
<rect x="327" y="710" width="1" height="8" fill="#ff0000"/>
<rect x="328" y="716" width="1" height="3" fill="#ff0000"/>
<rect x="330" y="720" width="1" height="6" fill="#ff0000"/>
<rect x="331" y="721" width="1" height="6" fill="#ff0000"/>
<rect x="332" y="723" width="1" height="4" fill="#ff0000"/>
<rect x="333" y="720" width="1" height="5" fill="#ff0000"/>
<rect x="334" y="718" width="1" height="3" fill="#ff0000"/>
<rect x="335" y="717" width="1" height="2" fill="#ff0000"/>
<rect x="336" y="717" width="1" height="4" fill="#ff0000"/>
<rect x="337" y="718" width="1" height="3" fill="#ff0000"/>
<rect x="338" y="720" width="1" height="6" fill="#ff0000"/>
<rect x="339" y="722" width="1" height="5" fill="#ff0000"/>
<rect x="340" y="722" width="1" height="5" fill="#ff0000"/>
<rect x="341" y="714" width="1" height="15" fill="#ff0000"/>
<rect x="342" y="725" width="1" height="7" fill="#ff0000"/>
<rect x="343" y="726" width="1" height="4" fill="#ff0000"/>
<rect x="344" y="726" width="1" height="6" fill="#ff0000"/>
<rect x="345" y="725" width="1" height="6" fill="#ff0000"/>
<rect x="346" y="725" width="1" height="4" fill="#ff0000"/>
<rect x="347" y="725" width="1" height="4" fill="#ff0000"/>
<rect x="348" y="722" width="1" height="7" fill="#ff0000"/>
<rect x="349" y="723" width="1" height="4" fill="#ff0000"/>
<rect x="350" y="724" width="1" height="3" fill="#ff0000"/>
<rect x="351" y="721" width="1" height="5" fill="#ff0000"/>
<rect x="352" y="716" width="1" height="14" fill="#ff0000"/>
<rect x="353" y="727" width="1" height="5" fill="#ff0000"/>
<rect x="354" y="728" width="1" height="5" fill="#ff0000"/>
<rect x="355" y="732" width="1" height="3" fill="#ff0000"/>
<rect x="356" y="731" width="1" height="4" fill="#ff0000"/>
<rect x="357" y="731" width="1" height="4" fill="#ff0000"/>
<rect x="358" y="729" width="1" height="5" fill="#ff0000"/>
<rect x="359" y="732" width="1" height="2" fill="#ff0000"/>
<rect x="360" y="729" width="1" height="5" fill="#ff0000"/>
<rect x="361" y="731" width="1" height="4" fill="#ff0000"/>
<rect x="362" y="730" width="1" height="6" fill="#ff0000"/>
<rect x="363" y="715" width="1" height="17" fill="#ff0000"/>
<rect x="364" y="724" width="1" height="9" fill="#ff0000"/>
<rect x="365" y="725" width="1" height="10" fill="#ff0000"/>
<rect x="366" y="719" width="1" height="11" fill="#ff0000"/>
<rect x="367" y="721" width="1" height="5" fill="#ff0000"/>
<rect x="368" y="708" width="1" height="17" fill="#ff0000"/>
<rect x="369" y="721" width="1" height="6" fill="#ff0000"/>
<rect x="370" y="718" width="1" height="7" fill="#ff0000"/>
<rect x="371" y="709" width="1" height="12" fill="#ff0000"/>
<rect x="372" y="715" width="1" height="8" fill="#ff0000"/>
<rect x="373" y="715" width="1" height="4" fill="#ff0000"/>
<rect x="374" y="717" width="1" height="6" fill="#ff0000"/>
<rect x="375" y="717" width="1" height="5" fill="#ff0000"/>
<rect x="376" y="721" width="1" height="4" fill="#ff0000"/>
<rect x="377" y="723" width="1" height="3" fill="#ff0000"/>
<rect x="378" y="720" width="1" height="6" fill="#ff0000"/>
<rect x="379" y="708" width="1" height="19" fill="#ff0000"/>
<rect x="380" y="719" width="1" height="9" fill="#ff0000"/>
<rect x="381" y="721" width="1" height="2" fill="#ff0000"/>
<rect x="382" y="722" width="1" height="3" fill="#ff0000"/>
<rect x="383" y="721" width="1" height="3" fill="#ff0000"/>
<rect x="384" y="722" width="1" height="7" fill="#ff0000"/>
<rect x="385" y="707" width="1" height="16" fill="#ff0000"/>
<rect x="386" y="705" width="1" height="14" fill="#ff0000"/>
<rect x="387" y="686" width="1" height="37" fill="#ff0000"/>
<rect x="388" y="714" width="1" height="13" fill="#ff0000"/>
<rect x="389" y="711" width="1" height="18" fill="#ff0000"/>
<rect x="390" y="718" width="1" height="12" fill="#ff0000"/>
<rect x="391" y="709" width="1" height="10" fill="#ff0000"/>
<rect x="392" y="693" width="1" height="17" fill="#ff0000"/>
<rect x="393" y="696" width="1" height="7" fill="#ff0000"/>
<rect x="394" y="702" width="1" height="20" fill="#ff0000"/>
<rect x="395" y="710" width="1" height="33" fill="#ff0000"/>
<rect x="396" y="713" width="1" height="7" fill="#ff0000"/>
<rect x="397" y="714" width="1" height="10" fill="#ff0000"/>
<rect x="398" y="717" width="1" height="8" fill="#ff0000"/>
<rect x="399" y="705" width="1" height="21" fill="#ff0000"/>
<rect x="400" y="717" width="1" height="10" fill="#ff0000"/>
<rect x="401" y="716" width="1" height="11" fill="#ff0000"/>
<rect x="402" y="723" width="1" height="7" fill="#ff0000"/>
<rect x="403" y="721" width="1" height="11" fill="#ff0000"/>
<rect x="404" y="726" width="1" height="8" fill="#ff0000"/>
<rect x="405" y="710" width="1" height="21" fill="#ff0000"/>
<rect x="406" y="718" width="1" height="7" fill="#ff0000"/>
<rect x="407" y="721" width="1" height="4" fill="#ff0000"/>
<rect x="408" y="724" width="1" height="5" fill="#ff0000"/>
<rect x="409" y="723" width="1" height="4" fill="#ff0000"/>
<rect x="410" y="719" width="1" height="5" fill="#ff0000"/>
<rect x="411" y="720" width="1" height="5" fill="#ff0000"/>
<rect x="412" y="703" width="1" height="23" fill="#ff0000"/>
<rect x="413" y="719" width="1" height="5" fill="#ff0000"/>
<rect x="414" y="720" width="1" height="4" fill="#ff0000"/>
<rect x="415" y="723" width="1" height="9" fill="#ff0000"/>
<rect x="416" y="702" width="1" height="22" fill="#ff0000"/>
<rect x="417" y="713" width="1" height="9" fill="#ff0000"/>
<rect x="418" y="677" width="1" height="47" fill="#ff0000"/>
<rect x="419" y="677" width="1" height="46" fill="#ff0000"/>
<rect x="420" y="714" width="1" height="8" fill="#ff0000"/>
<rect x="421" y="721" width="1" height="8" fill="#ff0000"/>
<rect x="422" y="726" width="1" height="10" fill="#ff0000"/>
<rect x="423" y="733" width="1" height="6" fill="#ff0000"/>
<rect x="424" y="735" width="1" height="5" fill="#ff0000"/>
<rect x="425" y="737" width="1" height="6" fill="#ff0000"/>
<rect x="426" y="736" width="1" height="4" fill="#ff0000"/>
<rect x="427" y="734" width="1" height="4" fill="#ff0000"/>
<rect x="428" y="734" width="1" height="8" fill="#ff0000"/>
<rect x="429" y="738" width="1" height="3" fill="#ff0000"/>
<rect x="430" y="736" width="1" height="6" fill="#ff0000"/>
<rect x="431" y="735" width="1" height="5" fill="#ff0000"/>
<rect x="432" y="720" width="1" height="18" fill="#ff0000"/>
<rect x="433" y="730" width="1" height="7" fill="#ff0000"/>
<rect x="434" y="733" width="1" height="3" fill="#ff0000"/>
<rect x="435" y="726" width="1" height="8" fill="#ff0000"/>
<rect x="436" y="727" width="1" height="10" fill="#ff0000"/>
<rect x="437" y="700" width="1" height="30" fill="#ff0000"/>
<rect x="438" y="728" width="1" height="3" fill="#ff0000"/>
<rect x="439" y="721" width="1" height="8" fill="#ff0000"/>
<rect x="440" y="697" width="1" height="25" fill="#ff0000"/>
<rect x="441" y="721" width="1" height="6" fill="#ff0000"/>
<rect x="442" y="719" width="1" height="9" fill="#ff0000"/>
<rect x="443" y="704" width="1" height="26" fill="#ff0000"/>
<rect x="444" y="722" width="1" height="13" fill="#ff0000"/>
<rect x="445" y="710" width="1" height="22" fill="#ff0000"/>
<rect x="446" y="723" width="1" height="8" fill="#ff0000"/>
<rect x="447" y="722" width="1" height="10" fill="#ff0000"/>
<rect x="448" y="724" width="1" height="2" fill="#ff0000"/>
<rect x="449" y="720" width="1" height="8" fill="#ff0000"/>
<rect x="450" y="722" width="1" height="7" fill="#ff0000"/>
<rect x="451" y="724" width="1" height="7" fill="#ff0000"/>
<rect x="452" y="672" width="1" height="53" fill="#ff0000"/>
<rect x="453" y="679" width="1" height="29" fill="#ff0000"/>
<rect x="454" y="694" width="1" height="20" fill="#ff0000"/>
<rect x="455" y="707" width="1" height="13" fill="#ff0000"/>
<rect x="456" y="719" width="1" height="8" fill="#ff0000"/>
<rect x="457" y="722" width="1" height="2" fill="#ff0000"/>
<rect x="458" y="722" width="1" height="10" fill="#ff0000"/>
<rect x="459" y="703" width="1" height="28" fill="#ff0000"/>
<rect x="460" y="727" width="1" height="9" fill="#ff0000"/>
<rect x="461" y="730" width="1" height="8" fill="#ff0000"/>
<rect x="462" y="736" width="1" height="3" fill="#ff0000"/>
<rect x="463" y="731" width="1" height="6" fill="#ff0000"/>
<rect x="464" y="730" width="1" height="20" fill="#ff0000"/>
<rect x="465" y="719" width="1" height="18" fill="#ff0000"/>
<rect x="466" y="730" width="1" height="8" fill="#ff0000"/>
<rect x="467" y="732" width="1" height="4" fill="#ff0000"/>
<rect x="468" y="733" width="1" height="4" fill="#ff0000"/>
<rect x="469" y="728" width="1" height="6" fill="#ff0000"/>
<rect x="470" y="721" width="1" height="10" fill="#ff0000"/>
<rect x="471" y="729" width="1" height="8" fill="#ff0000"/>
<rect x="472" y="727" width="1" height="6" fill="#ff0000"/>
<rect x="473" y="728" width="1" height="7" fill="#ff0000"/>
<rect x="474" y="727" width="1" height="9" fill="#ff0000"/>
<rect x="475" y="734" width="1" height="3" fill="#ff0000"/>
<rect x="476" y="725" width="1" height="12" fill="#ff0000"/>
<rect x="477" y="727" width="1" height="5" fill="#ff0000"/>
<rect x="478" y="708" width="1" height="26" fill="#ff0000"/>
<rect x="479" y="725" width="1" height="8" fill="#ff0000"/>
<rect x="480" y="727" width="1" height="6" fill="#ff0000"/>
<rect x="481" y="729" width="1" height="6" fill="#ff0000"/>
<rect x="482" y="712" width="1" height="24" fill="#ff0000"/>
<rect x="483" y="731" width="1" height="5" fill="#ff0000"/>
<rect x="484" y="733" width="1" height="4" fill="#ff0000"/>
<rect x="485" y="733" width="1" height="6" fill="#ff0000"/>
<rect x="486" y="733" width="1" height="5" fill="#ff0000"/>
<rect x="487" y="733" width="1" height="4" fill="#ff0000"/>
<rect x="488" y="735" width="1" height="3" fill="#ff0000"/>
<rect x="489" y="730" width="1" height="6" fill="#ff0000"/>
<rect x="490" y="731" width="1" height="3" fill="#ff0000"/>
<rect x="491" y="728" width="1" height="4" fill="#ff0000"/>
<rect x="492" y="731" width="1" height="6" fill="#ff0000"/>
<rect x="493" y="732" width="1" height="5" fill="#ff0000"/>
<rect x="494" y="730" width="1" height="6" fill="#ff0000"/>
<rect x="495" y="718" width="1" height="18" fill="#ff0000"/>
<rect x="496" y="735" width="1" height="3" fill="#ff0000"/>
<rect x="497" y="732" width="1" height="30" fill="#ff0000"/>
<rect x="498" y="741" width="1" height="7" fill="#ff0000"/>
<rect x="499" y="731" width="1" height="11" fill="#ff0000"/>
<rect x="500" y="726" width="1" height="10" fill="#ff0000"/>
<rect x="501" y="721" width="1" height="11" fill="#ff0000"/>
<rect x="502" y="723" width="1" height="5" fill="#ff0000"/>
<rect x="503" y="725" width="1" height="7" fill="#ff0000"/>
<rect x="504" y="728" width="1" height="5" fill="#ff0000"/>
<rect x="505" y="724" width="1" height="5" fill="#ff0000"/>
<rect x="506" y="726" width="1" height="3" fill="#ff0000"/>
<rect x="507" y="708" width="1" height="24" fill="#ff0000"/>
<rect x="508" y="721" width="1" height="7" fill="#ff0000"/>
<rect x="509" y="723" width="1" height="4" fill="#ff0000"/>
<rect x="510" y="702" width="1" height="26" fill="#ff0000"/>
<rect x="511" y="681" width="1" height="38" fill="#ff0000"/>
<rect x="512" y="715" width="1" height="6" fill="#ff0000"/>
<rect x="513" y="714" width="1" height="12" fill="#ff0000"/>
<rect x="514" y="694" width="1" height="23" fill="#ff0000"/>
<rect x="515" y="710" width="1" height="6" fill="#ff0000"/>
<rect x="516" y="648" width="1" height="63" fill="#ff0000"/>
<rect x="517" y="656" width="1" height="55" fill="#ff0000"/>
<rect x="518" y="695" width="1" height="22" fill="#ff0000"/>
<rect x="519" y="704" width="1" height="10" fill="#ff0000"/>
<rect x="520" y="706" width="1" height="15" fill="#ff0000"/>
<rect x="521" y="710" width="1" height="11" fill="#ff0000"/>
<rect x="522" y="685" width="1" height="38" fill="#ff0000"/>
<rect x="523" y="712" width="1" height="4" fill="#ff0000"/>
<rect x="524" y="710" width="1" height="7" fill="#ff0000"/>
<rect x="525" y="711" width="1" height="11" fill="#ff0000"/>
<rect x="526" y="719" width="1" height="8" fill="#ff0000"/>
<rect x="527" y="718" width="1" height="12" fill="#ff0000"/>
<rect x="528" y="725" width="1" height="5" fill="#ff0000"/>
<rect x="529" y="704" width="1" height="26" fill="#ff0000"/>
<rect x="530" y="716" width="1" height="8" fill="#ff0000"/>
<rect x="531" y="702" width="1" height="25" fill="#ff0000"/>
<rect x="532" y="713" width="1" height="15" fill="#ff0000"/>
<rect x="533" y="716" width="1" height="13" fill="#ff0000"/>
<rect x="534" y="716" width="1" height="14" fill="#ff0000"/>
<rect x="535" y="719" width="1" height="5" fill="#ff0000"/>
<rect x="536" y="702" width="1" height="28" fill="#ff0000"/>
<rect x="537" y="720" width="1" height="4" fill="#ff0000"/>
<rect x="538" y="723" width="1" height="9" fill="#ff0000"/>
<rect x="539" y="722" width="1" height="13" fill="#ff0000"/>
<rect x="540" y="722" width="1" height="10" fill="#ff0000"/>
<rect x="541" y="728" width="1" height="5" fill="#ff0000"/>
<rect x="542" y="725" width="1" height="10" fill="#ff0000"/>
<rect x="543" y="728" width="1" height="4" fill="#ff0000"/>
<rect x="544" y="726" width="1" height="4" fill="#ff0000"/>
<rect x="545" y="705" width="1" height="26" fill="#ff0000"/>
<rect x="546" y="724" width="1" height="10" fill="#ff0000"/>
<rect x="547" y="726" width="1" height="8" fill="#ff0000"/>
<rect x="548" y="728" width="1" height="7" fill="#ff0000"/>
<rect x="549" y="726" width="1" height="7" fill="#ff0000"/>
<rect x="550" y="732" width="1" height="3" fill="#ff0000"/>
<rect x="551" y="728" width="1" height="7" fill="#ff0000"/>
<rect x="552" y="727" width="1" height="7" fill="#ff0000"/>
<rect x="553" y="727" width="1" height="4" fill="#ff0000"/>
<rect x="554" y="727" width="1" height="3" fill="#ff0000"/>
<rect x="169" y="757" width="1" height="5" fill="#0000ff"/>
<rect x="211" y="725" width="1" height="37" fill="#0000ff"/>
<rect x="213" y="758" width="1" height="4" fill="#0000ff"/>
<rect x="236" y="756" width="1" height="6" fill="#0000ff"/>
<rect x="255" y="738" width="1" height="24" fill="#0000ff"/>
<rect x="290" y="704" width="1" height="58" fill="#0000ff"/>
<rect x="321" y="746" width="1" height="16" fill="#0000ff"/>
<rect x="322" y="748" width="1" height="14" fill="#0000ff"/>
<rect x="323" y="750" width="1" height="12" fill="#0000ff"/>
<rect x="324" y="753" width="1" height="9" fill="#0000ff"/>
<rect x="325" y="756" width="1" height="6" fill="#0000ff"/>
<rect x="326" y="758" width="1" height="4" fill="#0000ff"/>
<rect x="386" y="751" width="1" height="11" fill="#0000ff"/>
<rect x="387" y="731" width="1" height="31" fill="#0000ff"/>
<rect x="388" y="750" width="1" height="12" fill="#0000ff"/>
<rect x="391" y="756" width="1" height="6" fill="#0000ff"/>
<rect x="392" y="742" width="1" height="20" fill="#0000ff"/>
<rect x="393" y="756" width="1" height="6" fill="#0000ff"/>
<rect x="412" y="756" width="1" height="6" fill="#0000ff"/>
<rect x="415" y="754" width="1" height="8" fill="#0000ff"/>
<rect x="418" y="726" width="1" height="36" fill="#0000ff"/>
<rect x="419" y="728" width="1" height="34" fill="#0000ff"/>
<rect x="440" y="747" width="1" height="15" fill="#0000ff"/>
<rect x="452" y="707" width="1" height="55" fill="#0000ff"/>
<rect x="453" y="733" width="1" height="29" fill="#0000ff"/>
<rect x="478" y="759" width="1" height="3" fill="#0000ff"/>
<rect x="507" y="759" width="1" height="3" fill="#0000ff"/>
<rect x="510" y="756" width="1" height="6" fill="#0000ff"/>
<rect x="511" y="736" width="1" height="26" fill="#0000ff"/>
<rect x="514" y="751" width="1" height="11" fill="#0000ff"/>
<rect x="516" y="690" width="1" height="72" fill="#0000ff"/>
<rect x="517" y="707" width="1" height="55" fill="#0000ff"/>
<rect x="522" y="740" width="1" height="22" fill="#0000ff"/>
<rect x="523" y="751" width="1" height="11" fill="#0000ff"/>
<rect x="531" y="757" width="1" height="5" fill="#0000ff"/>
<rect x="536" y="754" width="1" height="8" fill="#0000ff"/>
<rect x="291" y="704" width="1" height="5" fill="#0000ff"/>
<rect x="292" y="708" width="1" height="11" fill="#0000ff"/>
<rect x="293" y="718" width="1" height="13" fill="#0000ff"/>
<rect x="294" y="730" width="1" height="8" fill="#0000ff"/>
<text x="264.900" y="23.800" font-size="10.143" fill="#000000" textLength="77.208" lengthAdjust="spacingAndGlyphs">NAR Longitude</text>
<text x="73.000" y="33.600" font-size="10.714" fill="#000000" textLength="22.156" lengthAdjust="spacingAndGlyphs">−90</text>
<text x="146.000" y="33.600" font-size="10.714" fill="#000000" textLength="22.928" lengthAdjust="spacingAndGlyphs">−60</text>
<text x="219.900" y="33.600" font-size="10.714" fill="#000000" textLength="22.367" lengthAdjust="spacingAndGlyphs">−30</text>
<text x="300.600" y="33.600" font-size="10.714" fill="#000000" textLength="5.951" lengthAdjust="spacingAndGlyphs">0</text>
<text x="369.500" y="33.600" font-size="10.714" fill="#000000" textLength="13.091" lengthAdjust="spacingAndGlyphs">30</text>
<text x="442.500" y="33.600" font-size="10.714" fill="#000000" textLength="13.607" lengthAdjust="spacingAndGlyphs">60</text>
<text x="515.000" y="33.600" font-size="10.714" fill="#000000" textLength="14.932" lengthAdjust="spacingAndGlyphs">90</text>
<text x="464.200" y="20.500" font-size="15.000" fill="#000000" textLength="91.873" lengthAdjust="spacingAndGlyphs">Lat: +16.33</text>
<text x="101.200" y="56.800" font-size="18.429" fill="#000000" textLength="38.126" lengthAdjust="spacingAndGlyphs">NAR</text>
<text x="151.900" y="56.800" font-size="18.429" fill="#000000" textLength="62.708" lengthAdjust="spacingAndGlyphs">11694</text>
<text x="28.000" y="44.700" font-size="11.000" fill="#000000" textLength="19.936" lengthAdjust="spacingAndGlyphs">400</text>
<text x="27.000" y="89.800" font-size="10.857" fill="#000000" textLength="20.624" lengthAdjust="spacingAndGlyphs">300</text>
<text x="27.000" y="137.000" font-size="10.714" fill="#000000" textLength="20.624" lengthAdjust="spacingAndGlyphs">200</text>
<text x="28.000" y="184.800" font-size="10.857" fill="#000000" textLength="20.815" lengthAdjust="spacingAndGlyphs">100</text>
<text x="42.000" y="227.800" font-size="10.857" fill="#000000" textLength="6.815" lengthAdjust="spacingAndGlyphs">0</text>
<text x="59.800" y="242.750" font-size="11.214" fill="#000000" textLength="34.521" lengthAdjust="spacingAndGlyphs">03/09</text>
<text x="161.800" y="242.750" font-size="11.214" fill="#000000" textLength="34.489" lengthAdjust="spacingAndGlyphs">03/12</text>
<text x="263.800" y="242.750" font-size="11.214" fill="#000000" textLength="34.521" lengthAdjust="spacingAndGlyphs">03/15</text>
<text x="365.800" y="242.750" font-size="11.214" fill="#000000" textLength="34.521" lengthAdjust="spacingAndGlyphs">03/18</text>
<text x="467.800" y="242.750" font-size="11.214" fill="#000000" textLength="34.489" lengthAdjust="spacingAndGlyphs">03/21</text>
<text x="59.800" y="508.900" font-size="11.286" fill="#000000" textLength="34.521" lengthAdjust="spacingAndGlyphs">03/09</text>
<text x="161.800" y="508.900" font-size="11.286" fill="#000000" textLength="34.489" lengthAdjust="spacingAndGlyphs">03/12</text>
<text x="263.800" y="508.900" font-size="11.286" fill="#000000" textLength="34.521" lengthAdjust="spacingAndGlyphs">03/15</text>
<text x="365.800" y="508.900" font-size="11.286" fill="#000000" textLength="34.521" lengthAdjust="spacingAndGlyphs">03/18</text>
<text x="467.800" y="508.900" font-size="11.286" fill="#000000" textLength="34.489" lengthAdjust="spacingAndGlyphs">03/21</text>
<text x="59.800" y="775.900" font-size="11.500" fill="#000000" textLength="34.521" lengthAdjust="spacingAndGlyphs">03/09</text>
<text x="161.800" y="775.900" font-size="11.500" fill="#000000" textLength="34.489" lengthAdjust="spacingAndGlyphs">03/12</text>
<text x="263.800" y="775.900" font-size="11.500" fill="#000000" textLength="34.521" lengthAdjust="spacingAndGlyphs">03/15</text>
<text x="365.800" y="775.900" font-size="11.500" fill="#000000" textLength="34.521" lengthAdjust="spacingAndGlyphs">03/18</text>
<text x="467.800" y="775.900" font-size="11.500" fill="#000000" textLength="34.489" lengthAdjust="spacingAndGlyphs">03/21</text>
<text x="202.000" y="256.500" font-size="11.143" fill="#000000" textLength="201.020" lengthAdjust="spacingAndGlyphs">Start Time: (2013/03/08 06:01)</text>
<text x="202.000" y="523.500" font-size="11.286" fill="#000000" textLength="201.020" lengthAdjust="spacingAndGlyphs">Start Time: (2013/03/08 06:01)</text>
<text x="480.000" y="791.000" font-size="10.857" fill="#000000" textLength="104.030" lengthAdjust="spacingAndGlyphs">Prepared by HELIO</text>
<text x="560.600" y="286.500" font-size="10.429" fill="#ff0000" textLength="26.417" lengthAdjust="spacingAndGlyphs">CMEs</text>
<text x="559.300" y="66.580" font-size="11.789" fill="#0000ff" font-style="italic" textLength="17.727" lengthAdjust="spacingAndGlyphs">βγδ</text>
<text x="559.300" y="89.580" font-size="11.000" fill="#0000ff" font-style="italic" textLength="11.739" lengthAdjust="spacingAndGlyphs">βδ</text>
<text x="559.300" y="112.580" font-size="12.284" fill="#0000ff" font-style="italic" textLength="10.743" lengthAdjust="spacingAndGlyphs">βγ</text>
<text x="559.700" y="136.180" font-size="12.128" fill="#0000ff" font-style="italic" textLength="5.600" lengthAdjust="spacingAndGlyphs">β</text>
<text x="558.700" y="160.580" font-size="11.000" fill="#0000ff" font-style="italic">α</text>
<text x="27.000" y="294.750" font-size="10.929" fill="#000000" textLength="21.043" lengthAdjust="spacingAndGlyphs">X10</text>
<text x="42.000" y="345.750" font-size="10.929" fill="#000000" textLength="6.414" lengthAdjust="spacingAndGlyphs">X</text>
<text x="40.000" y="396.750" font-size="10.929" fill="#000000" textLength="7.714" lengthAdjust="spacingAndGlyphs">M</text>
<text x="42.000" y="447.750" font-size="10.929" fill="#000000" textLength="6.815" lengthAdjust="spacingAndGlyphs">C</text>
<text x="41.000" y="494.400" font-size="10.000" fill="#000000" textLength="6.663" lengthAdjust="spacingAndGlyphs">B</text>
<text x="27.000" y="561.750" font-size="10.929" fill="#000000" textLength="21.043" lengthAdjust="spacingAndGlyphs">X10</text>
<text x="42.000" y="612.750" font-size="10.929" fill="#000000" textLength="6.414" lengthAdjust="spacingAndGlyphs">X</text>
<text x="40.000" y="663.750" font-size="10.929" fill="#000000" textLength="7.714" lengthAdjust="spacingAndGlyphs">M</text>
<text x="42.000" y="714.750" font-size="10.929" fill="#000000" textLength="6.815" lengthAdjust="spacingAndGlyphs">C</text>
<text x="41.000" y="761.400" font-size="10.000" fill="#000000" textLength="6.663" lengthAdjust="spacingAndGlyphs">B</text>
<text transform="translate(19.000 157.300) rotate(-90)" x="0" y="0" font-size="11.286" fill="#000000" textLength="48.082" lengthAdjust="spacingAndGlyphs">NAR Area</text>
<text transform="translate(19.000 428.500) rotate(-90)" x="0" y="0" font-size="11.143" fill="#000000" textLength="95.420" lengthAdjust="spacingAndGlyphs">Flare X−ray Class</text>
<text transform="translate(19.400 696.200) rotate(-90)" x="0" y="0" font-size="11.286" fill="#000000" textLength="97.917" lengthAdjust="spacingAndGlyphs">GOES X−ray Class</text>
<text transform="translate(575.600 451.200) rotate(-90)" x="0" y="0" font-size="11.429" fill="#000000" textLength="143.073" lengthAdjust="spacingAndGlyphs">Flares observed in AR</text>
<text transform="translate(589.100 138.900) rotate(-90)" x="0" y="0" font-size="11.714" fill="#0000ff" textLength="55.912" lengthAdjust="spacingAndGlyphs">Mag. Class</text>
</svg>
</body></html>
